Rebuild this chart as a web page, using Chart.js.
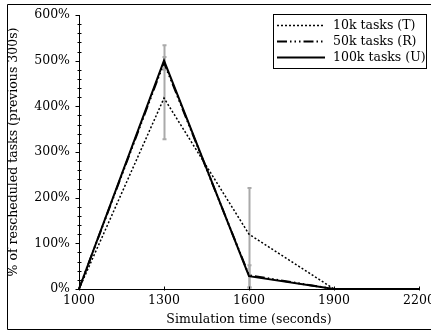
<!DOCTYPE html>
<html>
<head>
<meta charset="utf-8">
<script src="https://cdn.jsdelivr.net/npm/chart.js@4/dist/chart.umd.min.js"></script>
<style>
html,body{margin:0;padding:0;background:#fff;}
#wrap{width:431px;height:331px;position:relative;}
</style>
</head>
<body>
<div id="wrap"><canvas id="c" width="431" height="331"></canvas></div>
<script>
// ---- data ----
const times = [1000, 1300, 1600, 1900, 2200];
const seriesT = [0, 418, 120, 0, 0];   // 10k tasks (T)
const seriesR = [0, 496, 30, 0, 0];    // 50k tasks (R)
const seriesU = [0, 500, 28, 0, 0];    // 100k tasks (U)
const errT_lo = [null, 328, 4, null, null];
const errT_hi = [null, 534, 221, null, null];
const errU_lo = [null, 480, 3, null, null];
const errU_hi = [null, 508, 52, null, null];
const labels = ['10k tasks (T)', '50k tasks (R)', '100k tasks (U)'];
const xTicks = [1000, 1300, 1600, 1900, 2200];

const FONT = 'DejaVu Serif';
const FS = 12.5;
const pts = s => times.map((t, i) => ({x: t, y: s[i]}));

const axesPlugin = {
  id: 'axesPlugin',
  beforeDatasetsDraw(chart) {
    const {ctx, scales: {x, y}} = chart;
    ctx.save();
    ctx.strokeStyle = '#aaaaaa';
    ctx.lineWidth = 2;
    const bars = [[errT_lo, errT_hi], [errU_lo, errU_hi]];
    bars.forEach(([lo, hi]) => {
      times.forEach((t, i) => {
        if (lo[i] == null) return;
        const px = Math.round(x.getPixelForValue(t)) + 0.5;
        const y1 = y.getPixelForValue(lo[i]), y2 = y.getPixelForValue(hi[i]);
        ctx.beginPath();
        ctx.moveTo(px, y1); ctx.lineTo(px, y2);
        ctx.moveTo(px - 2, y1); ctx.lineTo(px + 2, y1);
        ctx.moveTo(px - 2, y2); ctx.lineTo(px + 2, y2);
        ctx.stroke();
      });
    });
    ctx.restore();
  },
  afterDraw(chart) {
    const {ctx, scales: {x, y}, chartArea: a} = chart;
    ctx.save();
    ctx.strokeStyle = '#000';
    ctx.lineWidth = 1;
    // spines
    const lx = Math.round(a.left) + 0.5, by = Math.round(a.bottom) + 0.5;
    ctx.beginPath();
    ctx.moveTo(lx, Math.round(a.top)); ctx.lineTo(lx, by);
    ctx.lineTo(Math.round(a.right) + 1, by);
    ctx.stroke();
    // y ticks
    ctx.beginPath();
    y.ticks.forEach(t => {
      const py = Math.round(y.getPixelForValue(t.value)) + 0.5;
      if (t.value % 100 === 0) { ctx.moveTo(lx - 4, py); ctx.lineTo(lx, py); }
      else { ctx.moveTo(lx - 2, py); ctx.lineTo(lx + 2, py); }
    });
    // x ticks
    x.ticks.forEach(t => {
      const px = Math.round(x.getPixelForValue(t.value)) + 0.5;
      ctx.moveTo(px, by - 3); ctx.lineTo(px, by + 1);
    });
    ctx.stroke();
    // legend
    const L = {x: 273.5, y: 14.5, w: 153, h: 54};
    ctx.fillStyle = '#fff';
    ctx.fillRect(L.x, L.y, L.w, L.h);
    ctx.strokeRect(L.x, L.y, L.w, L.h);
    ctx.font = FS + 'px "' + FONT + '"';
    ctx.textBaseline = 'middle';
    ctx.textAlign = 'left';
    chart.data.datasets.forEach((ds, i) => {
      const ly = 25 + i * 16;
      ctx.save();
      ctx.strokeStyle = ds.borderColor;
      ctx.lineWidth = ds.borderWidth;
      ctx.setLineDash(ds.borderDash || []);
      ctx.beginPath();
      ctx.moveTo(277, ly + 0.5); ctx.lineTo(325, ly + 0.5);
      ctx.stroke();
      ctx.restore();
      ctx.fillStyle = '#000';
      ctx.fillText(ds.label, 333, ly + 1);
    });
    // outer frame
    ctx.beginPath();
    ctx.rect(7.5, 4.5, 600, 325);
    ctx.stroke();
    ctx.restore();
  }
};

new Chart(document.getElementById('c'), {
  type: 'line',
  data: {
    datasets: [
      {label: labels[0], data: pts(seriesT), borderColor: '#000', borderWidth: 1.5, borderDash: [2, 2], order: 2},
      {label: labels[1], data: pts(seriesR), borderColor: '#000', borderWidth: 2, borderDash: [10, 3, 1.5, 3, 1.5, 3, 1.5, 3], order: 1},
      {label: labels[2], data: pts(seriesU), borderColor: '#000', borderWidth: 2, order: 0}
    ]
  },
  options: {
    responsive: false,
    animation: false,
    events: [],
    layout: {padding: {left: 0, right: 12, top: 15, bottom: 0}},
    elements: {point: {radius: 0}, line: {tension: 0, fill: false}},
    datasets: {line: {clip: 4}},
    plugins: {legend: {display: false}, tooltip: {enabled: false}},
    scales: {
      x: {
        type: 'linear', min: 1000, max: 2200,
        afterBuildTicks: s => { s.ticks = xTicks.map(v => ({value: v})); },
        afterFit: s => { s.height = 42; s.paddingLeft = 0; s.paddingRight = 0; },
        grid: {display: false, drawTicks: false},
        border: {display: false},
        ticks: {
          color: '#000', padding: 4, maxRotation: 0, autoSkip: false,
          font: {family: FONT, size: FS},
          callback: v => String(v)
        },
        title: {display: true, text: 'Simulation time (seconds)', color: '#000',
          font: {family: FONT, size: FS}, padding: {top: 0, bottom: 4}}
      },
      y: {
        type: 'linear', min: 0, max: 600,
        afterFit: s => { s.width = 79; s.paddingTop = 0; s.paddingBottom = 0; },
        grid: {display: false, drawTicks: false},
        border: {display: false},
        ticks: {
          color: '#000', stepSize: 20, padding: 9, autoSkip: false,
          font: {family: FONT, size: FS},
          callback: v => (v % 100 === 0 ? v + '%' : '')
        },
        title: {display: true, text: '% of rescheduled tasks (previous 300s)', color: '#000',
          font: {family: FONT, size: FS}, padding: {top: 6, bottom: 0}}
      }
    }
  },
  plugins: [axesPlugin]
});
</script>
</body>
</html>
